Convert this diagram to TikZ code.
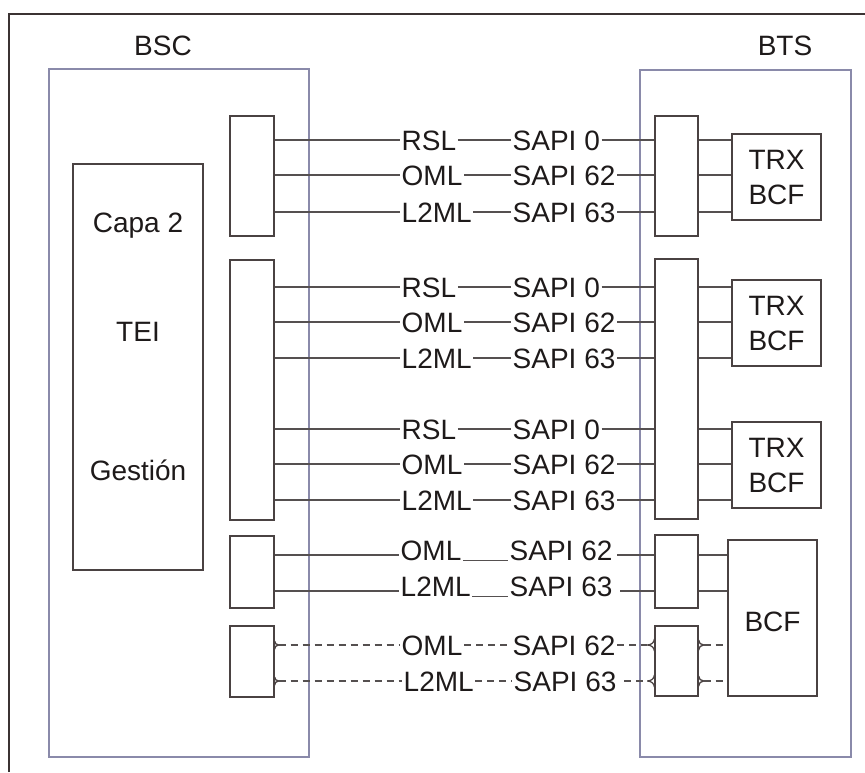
\documentclass[tikz,border=0pt]{standalone}
\usepackage{fontspec}
\setmainfont{Liberation Sans}
\definecolor{txt}{HTML}{1E1A1A}
\definecolor{boxc}{HTML}{4A4242}
\definecolor{framec}{HTML}{3B3333}
\definecolor{bluec}{HTML}{8A8AAA}
\definecolor{linec}{HTML}{555050}
\tikzset{
  every node/.style={text=txt, font=\fontsize{28}{35}\selectfont},
  frameline/.style={draw=framec, line width=2pt},
  group/.style={draw=bluec, line width=1.3pt, inner sep=0pt},
  blk/.style={draw=boxc, line width=1.3pt, inner sep=0pt, minimum width=44pt},
  unit/.style={draw=boxc, line width=1.3pt, inner sep=0pt, align=center, minimum width=89pt},
  lab/.style={inner xsep=1.5pt, inner ysep=0pt, text height=20pt, text depth=0pt},
  conn/.style={draw=linec, line width=1.1pt},
  dconn/.style={conn, dash pattern=on 7pt off 5pt},
  tick/.style={draw=boxc, line width=1.3pt},
}
\newcommand{\sigrow}[7]{%
  \node[lab, anchor=west] (l#1) at (400,#2) {#3};
  \node[lab, anchor=west] (s#1) at (511,#2) {#4};
  \draw[#7] (#5.east |- l#1.west) -- (l#1.west);
  \draw[#7] (l#1.east) -- (s#1.west);
  \draw[#7] (s#1.east) -- (#6.west |- s#1.east);
}
\begin{document}
\begin{tikzpicture}[x=1pt,y=-1pt]
\useasboundingbox (0,0) rectangle (865,772);
% outer frame (cropped)
\draw[frameline] (9,772) -- (9,14) -- (865,14);
% titles
\node (tbsc) at (163,46) {BSC};
\node (tbts) at (785,46) {BTS};
% group frames
\node[group, minimum width=260pt, minimum height=688pt] (bsc) at (179,413) {};
\node[group, minimum width=211pt, minimum height=687pt] (bts) at (745.5,413.5) {};
% BSC internal block
\node[draw=boxc, line width=1.3pt, minimum width=130pt, minimum height=406pt, inner sep=0pt] (capa) at (138,367) {};
\node (capa2) at (138,226) {Capa 2};
\node (tei) at (138,332) {TEI};
\node (gest) at (138,470) {Gestión};
% BSC ports
\node[blk, minimum height=120pt] (b1) at (252,176) {};
\node[blk, minimum height=260pt] (b2) at (252,390) {};
\node[blk, minimum height=72pt] (b3) at (252,572) {};
\node[blk, minimum height=71pt] (b4) at (252,661.5) {};
% BTS ports
\node[blk, minimum width=43pt, minimum height=120pt] (t1) at (676.5,176) {};
\node[blk, minimum width=43pt, minimum height=260pt] (t2) at (676.5,389) {};
\node[blk, minimum width=43pt, minimum height=73pt] (t3) at (676.5,571.5) {};
\node[blk, minimum width=43pt, minimum height=70pt] (t4) at (676.5,661) {};
% BTS units
\node[unit, minimum height=86pt] (trx1) at (776.5,177) {TRX\\BCF};
\node[unit, minimum height=86pt] (trx2) at (776.5,323) {TRX\\BCF};
\node[unit, minimum height=86pt] (trx3) at (776.5,465) {TRX\\BCF};
\node[unit, minimum height=156pt] (bcf) at (772.5,618) {};
\node (bcft) at (772.5,622) {BCF};
% signalling rows
\sigrow{a}{140}{RSL}{SAPI 0}{b1}{t1}{conn}
\sigrow{b}{175}{OML}{SAPI 62}{b1}{t1}{conn}
\sigrow{c}{212}{L2ML}{SAPI 63}{b1}{t1}{conn}
\sigrow{d}{287}{RSL}{SAPI 0}{b2}{t2}{conn}
\sigrow{e}{322}{OML}{SAPI 62}{b2}{t2}{conn}
\sigrow{f}{358}{L2ML}{SAPI 63}{b2}{t2}{conn}
\sigrow{g}{429}{RSL}{SAPI 0}{b2}{t2}{conn}
\sigrow{h}{464}{OML}{SAPI 62}{b2}{t2}{conn}
\sigrow{i}{500}{L2ML}{SAPI 63}{b2}{t2}{conn}
% group 4 (connector at baseline)
\node[lab, anchor=west] (lj) at (399,550) {OML};
\node[lab, anchor=west] (sj) at (508,550) {SAPI 62};
\node[lab, anchor=west] (lk) at (399,586) {L2ML};
\node[lab, anchor=west] (sk) at (508,586) {SAPI 63};
\coordinate (pj) at (0,555);
\coordinate (pk) at (0,591);
\draw[conn] (b3.east |- pj) -- (lj.west |- pj);
\draw[conn] (lj.south east) -- (sj.south west);
\draw[conn] ([xshift=3pt]sj.east |- pj) -- (t3.west |- pj);
\draw[conn] (b3.east |- pk) -- (lk.west |- pk);
\draw[conn] (lk.south east) -- (sk.south west);
\draw[conn] ([xshift=6pt]sk.east |- pk) -- (t3.west |- pk);
% group 5 dashed
\node[lab, anchor=west] (ll) at (400,645) {OML};
\node[lab, anchor=west] (sl) at (511,645) {SAPI 62};
\node[lab, anchor=west] (lm) at (402,681) {L2ML};
\node[lab, anchor=west] (sm) at (512,681) {SAPI 63};
\coordinate (pl) at (0,645);
\coordinate (pm) at (0,681);
\draw[dconn] ([xshift=4pt]b4.east |- pl) -- (ll.west);
\draw[dconn] (ll.east) -- (sl.west);
\draw[dconn] (sl.east) -- ([xshift=-7pt]t4.west |- pl);
\draw[dconn] ([xshift=4pt]b4.east |- pm) -- (lm.west);
\draw[dconn] (lm.east) -- (sm.west);
\draw[dconn] ([xshift=6pt]sm.east) -- ([xshift=-7pt]t4.west |- pm);
% brace ticks on dashed ports
\foreach \p in {pl,pm}{
  \draw[tick] ([yshift=6pt]t4.west |- \p) to[out=-90,in=0] ([xshift=-7pt]t4.west |- \p);
  \draw[tick] ([yshift=-6pt]t4.west |- \p) to[out=90,in=0] ([xshift=-7pt]t4.west |- \p);
  \draw[tick] ([yshift=5pt]t4.east |- \p) to[out=-90,in=180] ([xshift=5pt]t4.east |- \p);
  \draw[tick] ([yshift=-5pt]t4.east |- \p) to[out=90,in=180] ([xshift=5pt]t4.east |- \p);
  \draw[tick] ([yshift=4pt]b4.east |- \p) to[out=-90,in=180] ([xshift=4pt]b4.east |- \p);
  \draw[tick] ([yshift=-4pt]b4.east |- \p) to[out=90,in=180] ([xshift=4pt]b4.east |- \p);
}
% BTS port to unit links
\foreach \r/\u in {a/trx1,b/trx1,c/trx1,d/trx2,e/trx2,f/trx2,g/trx3,h/trx3,i/trx3}{
  \draw[conn] (t1.east |- l\r.west) -- (\u.west |- l\r.west);
}
\draw[conn] (t3.east |- pj) -- (bcf.west |- pj);
\draw[conn] (t3.east |- pk) -- (bcf.west |- pk);
\draw[dconn] ([xshift=5pt]t4.east |- pl) -- (bcf.west |- pl);
\draw[dconn] ([xshift=5pt]t4.east |- pm) -- (bcf.west |- pm);
\end{tikzpicture}
\end{document}
